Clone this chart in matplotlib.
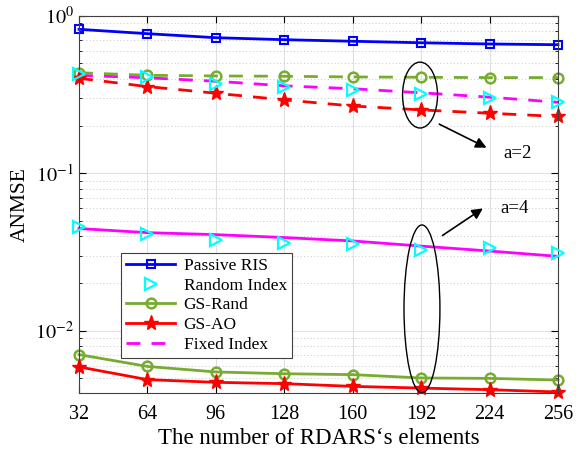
import numpy as np
import matplotlib.pyplot as plt
from matplotlib.patches import Ellipse
from matplotlib.ticker import LogLocator, NullFormatter

plt.rcParams['font.family'] = ['Liberation Serif', 'DejaVu Serif']
plt.rcParams['mathtext.fontset'] = 'stix'

# number of RDARS elements
N = [32, 64, 96, 128, 160, 192, 224, 256]

# a = 2 curves
passive_ris = [0.823, 0.772, 0.728, 0.707, 0.691, 0.676, 0.664, 0.657]
rand_idx_a2 = [0.43, 0.412, 0.368, 0.352, 0.339, 0.318, 0.300, 0.286]
gs_rand_a2 = [0.436, 0.42, 0.416, 0.414, 0.41, 0.408, 0.406, 0.406]
gs_ao_a2 = [0.402, 0.356, 0.323, 0.293, 0.268, 0.253, 0.241, 0.230]
fixed_idx_a2 = [0.42, 0.405, 0.385, 0.36, 0.345, 0.325, 0.305, 0.283]

# a = 4 curves
rand_idx_a4 = [0.0456, 0.0414, 0.0376, 0.0363, 0.0354, 0.0324, 0.0336, 0.0312]
gs_rand_a4 = [0.00705, 0.00593, 0.00547, 0.00533, 0.00526, 0.00501, 0.00498, 0.00486]
gs_ao_a4 = [0.00589, 0.00489, 0.0047, 0.00461, 0.00443, 0.00432, 0.00422, 0.00408]
fixed_idx_a4 = [0.0446, 0.042, 0.0408, 0.0391, 0.0372, 0.0345, 0.0321, 0.0297]

fig = plt.figure(figsize=(5.76, 4.51), dpi=100)
ax = fig.add_axes([79/576, (451-392.5)/451, 479/576, 376.5/451])

lw = 2.0
green = '#77AC30'
kw = dict(clip_on=False)

ax.plot(N, passive_ris, '-s', color='#0000FF', lw=lw, ms=6, mfc='none', mew=1.5,
        label='Passive RIS', **kw)
ax.plot(N, rand_idx_a4, '>', color='cyan', ms=9, mfc='none', mew=1.6,
        label='Random Index', zorder=4, **kw)
ax.plot(N, gs_rand_a4, '-o', color=green, lw=lw, ms=7, mfc='none', mew=1.8,
        label='GS-Rand', **kw)
ax.plot(N, gs_ao_a4, '-*', color='red', lw=lw, ms=11, label='GS-AO', **kw)
ax.plot(N, fixed_idx_a2, '--', color='magenta', lw=lw, dashes=(5, 4),
        label='Fixed Index', **kw)

ax.plot(N, fixed_idx_a4, '-', color='magenta', lw=lw, **kw)
ax.plot(N, rand_idx_a2, '>', color='cyan', ms=9, mfc='none', mew=1.6, zorder=4, **kw)
ax.plot(N, gs_rand_a2, '--o', color=green, lw=lw, ms=7, mfc='none', mew=1.8,
        dashes=(5, 4), **kw)
ax.plot(N, gs_ao_a2, '--*', color='red', lw=lw, ms=11, dashes=(5, 4), **kw)

ax.set_yscale('log')
ax.set_xlim(32, 256)
ax.set_ylim(0.00405, 1)
ax.set_xticks(N)
ax.set_yticks([1e-2, 1e-1, 1e0])
ax.set_yticklabels(['$10^{-2}$', '$10^{-1}$', '$10^{0}$'])
ax.yaxis.set_minor_locator(LogLocator(base=10, subs=np.arange(2, 10)))
ax.yaxis.set_minor_formatter(NullFormatter())
ax.tick_params(which='both', direction='in', top=True, right=True, labelsize=14.5)
ax.tick_params(which='major', length=5)
ax.tick_params(which='minor', length=2.5)
ax.tick_params(axis='x', pad=9)
ax.grid(True, which='major', color='#E0E0E0', lw=0.8)
ax.grid(True, which='minor', axis='y', color='#C8C8C8', ls=(0, (1, 2.5)), lw=0.7)
for s in ax.spines.values():
    s.set_color('#404040')

ax.set_xlabel("The number of RDARS\u2018s elements", fontsize=16.5, labelpad=3)
ax.set_ylabel('ANMSE', fontsize=15.5, labelpad=4)

# ellipses marking the two groups at N = 192
ax.add_patch(Ellipse((0.712, 0.790), 0.073, 0.175, transform=ax.transAxes,
                     fill=False, ec='black', lw=1.0, zorder=6))
ax.add_patch(Ellipse((0.716, 0.222), 0.075, 0.446, transform=ax.transAxes,
                     fill=False, ec='black', lw=1.0, zorder=6))

ax.annotate('', xy=(0.856, 0.647), xytext=(0.747, 0.716), xycoords='axes fraction',
            arrowprops=dict(arrowstyle='-|>', color='black', lw=1.2, mutation_scale=16))
ax.text(0.885, 0.636, 'a=2', transform=ax.transAxes, fontsize=13.5, va='center')
ax.annotate('', xy=(0.848, 0.493), xytext=(0.754, 0.413), xycoords='axes fraction',
            arrowprops=dict(arrowstyle='-|>', color='black', lw=1.2, mutation_scale=16))
ax.text(0.879, 0.490, 'a=4', transform=ax.transAxes, fontsize=13.5, va='center')

leg = ax.legend(loc='lower left', bbox_to_anchor=(0.088, 0.092), borderaxespad=0,
                fontsize=12.5, fancybox=False, edgecolor='#404040', framealpha=1,
                handlelength=2.8, labelspacing=0.2, borderpad=0.3, handletextpad=0.5)
leg.get_frame().set_linewidth(0.8)

fig.savefig('out.png', dpi=100)
